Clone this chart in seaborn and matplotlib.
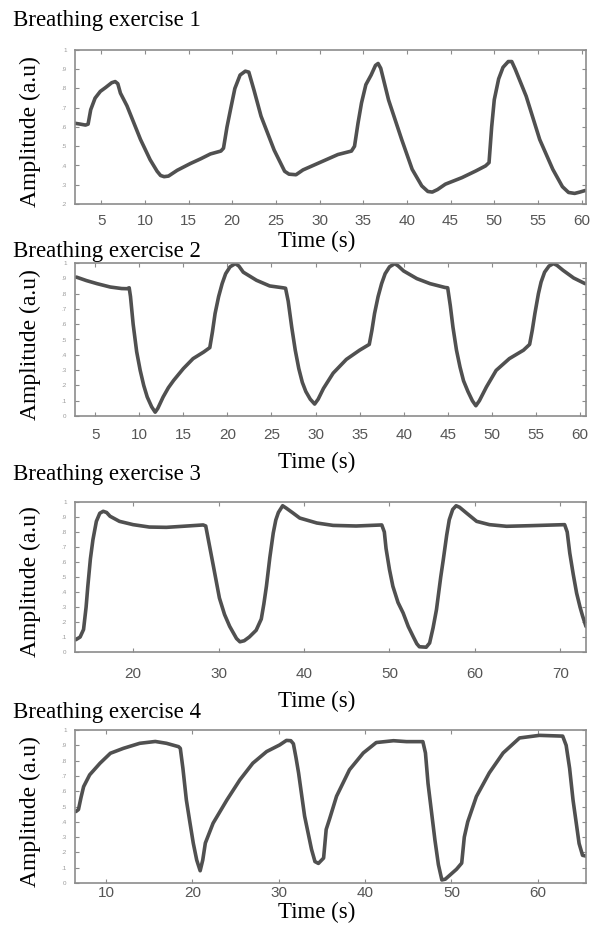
import matplotlib
matplotlib.use("Agg")
import matplotlib.pyplot as plt
import numpy as np
import pandas as pd
import seaborn as sns
from matplotlib.ticker import FuncFormatter

sns.set_style("white")
plt.rcParams["font.family"] = ["Liberation Serif", "DejaVu Serif"]

# ---- respiration traces (time in s, normalised amplitude) ----
t1 = [1.9, 2.6, 3.2, 3.5, 3.8, 4.3, 4.9, 5.5, 6.2, 6.6, 6.9, 7.2, 7.95, 9.5, 10.6, 11.4, 11.8,
      12.2, 12.7, 13.7, 15.2, 16.4, 17.5, 18.7, 19.0, 19.4, 19.8, 20.3, 20.9, 21.5, 21.9, 22.5,
      23.3, 24.8, 26.0, 26.5, 27.3, 28.1, 30.0, 32.1, 33.65, 34.0, 34.4, 34.8, 35.3, 35.9, 36.4,
      36.7, 37.0, 37.9, 39.4, 40.6, 41.7, 42.4, 42.9, 43.5, 44.4, 46.3, 47.9, 49.0, 49.4, 49.7,
      50.0, 50.5, 51.0, 51.6, 52.0, 52.4, 53.65, 55.2, 56.7, 57.8, 58.5, 59.2, 59.8, 60.4]
a1 = [0.62, 0.615, 0.61, 0.615, 0.69, 0.75, 0.785, 0.805, 0.83, 0.836, 0.825, 0.776, 0.71,
      0.535, 0.43, 0.37, 0.348, 0.342, 0.345, 0.375, 0.41, 0.435, 0.46, 0.475, 0.49, 0.6, 0.69,
      0.8, 0.87, 0.89, 0.885, 0.79, 0.656, 0.48, 0.37, 0.355, 0.352, 0.377, 0.415, 0.457, 0.475,
      0.5, 0.62, 0.725, 0.82, 0.87, 0.92, 0.93, 0.905, 0.74, 0.535, 0.38, 0.294, 0.265, 0.262,
      0.275, 0.303, 0.337, 0.372, 0.398, 0.415, 0.6, 0.742, 0.85, 0.91, 0.94, 0.94, 0.9, 0.76,
      0.535, 0.38, 0.29, 0.26, 0.255, 0.262, 0.27]

t2 = [2.85, 4.0, 5.2, 6.7, 8.0, 8.6, 8.85, 9.0, 9.3, 9.7, 10.1, 10.5, 10.9, 11.4, 11.8, 12.1,
      12.7, 13.3, 13.9, 15.0, 16.1, 17.3, 18.0, 18.3, 18.6, 19.0, 19.4, 19.8, 20.3, 20.9, 21.3,
      21.8, 23.3, 24.8, 26.3, 26.6, 26.9, 27.3, 27.7, 28.1, 28.5, 28.9, 29.4, 29.9, 30.3, 30.9,
      32.0, 33.5, 35.0, 36.1, 36.4, 36.7, 37.1, 37.5, 37.9, 38.4, 39.0, 39.4, 40.0, 41.5, 43.0,
      44.7, 45.0, 45.3, 45.6, 46.0, 46.4, 46.8, 47.3, 47.8, 48.2, 48.6, 49.4, 50.5, 52.0, 53.6,
      54.3, 54.6, 54.9, 55.3, 55.6, 56.0, 56.5, 57.0, 57.4, 58.1, 59.3, 60.6]
a2 = [0.908, 0.885, 0.865, 0.843, 0.833, 0.832, 0.838, 0.78, 0.6, 0.42, 0.298, 0.2, 0.124,
      0.06, 0.025, 0.05, 0.124, 0.185, 0.233, 0.31, 0.375, 0.418, 0.447, 0.55, 0.67, 0.78, 0.865,
      0.93, 0.975, 0.996, 0.98, 0.94, 0.887, 0.85, 0.838, 0.835, 0.75, 0.58, 0.43, 0.31, 0.22,
      0.16, 0.11, 0.078, 0.11, 0.18, 0.28, 0.37, 0.43, 0.468, 0.56, 0.67, 0.78, 0.865, 0.93,
      0.975, 0.996, 0.98, 0.948, 0.898, 0.865, 0.84, 0.838, 0.72, 0.58, 0.43, 0.32, 0.23, 0.16,
      0.1, 0.067, 0.1, 0.19, 0.298, 0.375, 0.43, 0.468, 0.56, 0.67, 0.8, 0.875, 0.94, 0.98,
      0.996, 0.985, 0.952, 0.902, 0.865]

t3 = [13.3, 13.8, 14.2, 14.5, 14.7, 15.0, 15.3, 15.7, 16.1, 16.5, 16.9, 17.3, 18.4, 20.0, 21.9,
      23.9, 25.8, 28.2, 28.5, 28.8, 29.4, 30.1, 30.7, 31.3, 32.1, 32.5, 33.0, 33.6, 34.4, 35.0,
      35.3, 35.6, 36.0, 36.4, 36.7, 37.0, 37.5, 37.9, 38.7, 39.5, 41.5, 43.4, 46.1, 49.1, 49.4,
      49.6, 50.0, 50.4, 51.0, 51.6, 52.2, 52.8, 53.2, 53.5, 54.3, 54.7, 55.1, 55.5, 56.0, 56.3,
      56.7, 57.0, 57.4, 57.8, 58.2, 59.0, 60.2, 61.7, 63.7, 66.4, 70.5, 70.8, 71.1, 71.5, 71.9,
      72.3, 72.6, 73.0]
a3 = [0.082, 0.1, 0.15, 0.3, 0.438, 0.62, 0.749, 0.871, 0.925, 0.938, 0.93, 0.905, 0.871,
      0.849, 0.833, 0.831, 0.838, 0.847, 0.84, 0.75, 0.571, 0.36, 0.25, 0.171, 0.09, 0.068,
      0.075, 0.1, 0.145, 0.22, 0.32, 0.438, 0.63, 0.793, 0.88, 0.93, 0.975, 0.96, 0.927, 0.893,
      0.86, 0.844, 0.84, 0.847, 0.8, 0.69, 0.55, 0.438, 0.33, 0.26, 0.17, 0.1, 0.055, 0.035,
      0.032, 0.06, 0.16, 0.282, 0.5, 0.616, 0.78, 0.882, 0.95, 0.975, 0.965, 0.927, 0.871, 0.849,
      0.838, 0.842, 0.849, 0.8, 0.66, 0.52, 0.393, 0.3, 0.24, 0.17]

t4 = [6.5, 6.8, 7.1, 7.4, 8.1, 9.3, 10.5, 12.0, 13.9, 15.7, 17.0, 18.4, 18.6, 18.9, 19.3, 19.7,
      20.1, 20.5, 20.9, 21.2, 21.5, 22.4, 24.0, 25.5, 27.0, 28.6, 30.1, 30.9, 31.4, 31.7, 32.0,
      32.3, 33.0, 33.8, 34.2, 34.6, 35.2, 35.5, 35.9, 36.7, 38.2, 39.8, 41.3, 43.3, 44.8, 46.7,
      47.0, 47.3, 48.1, 48.5, 48.9, 49.3, 49.8, 50.6, 51.2, 51.5, 51.9, 52.9, 54.4, 56.0, 57.9,
      60.2, 62.9, 63.3, 63.7, 64.1, 64.5, 64.8, 65.2, 65.6]
a4 = [0.467, 0.48, 0.56, 0.63, 0.707, 0.783, 0.848, 0.88, 0.913, 0.925, 0.913, 0.891, 0.88,
      0.75, 0.543, 0.4, 0.261, 0.15, 0.08, 0.15, 0.261, 0.391, 0.543, 0.674, 0.783, 0.859,
      0.902, 0.932, 0.93, 0.91, 0.82, 0.72, 0.437, 0.22, 0.14, 0.128, 0.163, 0.35, 0.42, 0.567,
      0.74, 0.85, 0.918, 0.93, 0.924, 0.924, 0.85, 0.65, 0.28, 0.12, 0.02, 0.025, 0.05, 0.09,
      0.13, 0.3, 0.4, 0.565, 0.72, 0.85, 0.948, 0.965, 0.96, 0.9, 0.75, 0.541, 0.38, 0.258,
      0.181, 0.176]

titles = ["Breathing exercise 1", "Breathing exercise 2",
          "Breathing exercise 3", "Breathing exercise 4"]
xticks = [list(range(5, 61, 5)), list(range(5, 61, 5)),
          list(range(20, 71, 10)), list(range(10, 61, 10))]
xlims = [(2.0, 60.5), (2.7, 60.7), (13.2, 73.0), (6.4, 65.6)]
ylims = [(0.2, 1.0), (0.0, 1.0), (0.0, 1.0), (0.0, 1.0)]
xlabel = "Time (s)"
ylabel = "Amplitude (a.u)"

series = [(t1, a1), (t2, a2), (t3, a3), (t4, a4)]

# ---- layout in pixels (figure is 592 x 930) ----
W, H = 592, 930
frames = [(75, 50, 586, 204), (75, 263, 586, 416), (75, 502, 586, 652), (75, 730, 586, 883)]
title_base = [26, 257, 480, 718]
xlabel_y = [241, 462, 701, 912]
xtick_pad = [7.4, 8.9, 11.0, 2.4]

fig = plt.figure(figsize=(W / 100, H / 100), dpi=100)

def ytick_fmt(v, _):
    v = round(v, 2)
    if v >= 1:
        return "1"
    if v <= 0:
        return "0"
    return "." + str(int(round(v * 10)))

line_col = "#505050"
frame_col = "#8c8c8c"

for i, ((t, a), (l, tp, r, b)) in enumerate(zip(series, frames)):
    ax = fig.add_axes([l / W, 1 - b / H, (r - l) / W, (b - tp) / H])
    df = pd.DataFrame({"time": t, "amp": a})
    sns.lineplot(data=df, x="time", y="amp", ax=ax, color=line_col, lw=2.6,
                 estimator=None, sort=False)
    ax.lines[-1].set_solid_joinstyle("round")
    ax.set_xlim(*xlims[i])
    ax.set_ylim(*ylims[i])
    ax.set_xticks(xticks[i])
    ax.set_yticks(np.round(np.arange(ylims[i][0], 1.0001, 0.1), 2))
    ax.yaxis.set_major_formatter(FuncFormatter(ytick_fmt))
    ax.set_xlabel("")
    ax.set_ylabel("")
    for s in ax.spines.values():
        s.set_color(frame_col)
        s.set_linewidth(1.2)
    ax.tick_params(axis="both", direction="in", length=3, width=0.8, color=frame_col,
                   top=True, right=True, bottom=True, left=True)
    ax.tick_params(axis="x", labelsize=11, labelcolor="#555555", pad=xtick_pad[i])
    ax.tick_params(axis="y", labelsize=4.5, labelcolor="#9a9a9a", pad=6)
    for lab in ax.get_xticklabels():
        lab.set_fontfamily("Liberation Sans")
    for lab in ax.get_yticklabels():
        lab.set_fontfamily("Liberation Sans")

    fig.text(13 / W, 1 - title_base[i] / H, titles[i], ha="left", va="baseline",
             fontsize=16.5, color="black")
    fig.text(317 / W, 1 - xlabel_y[i] / H, xlabel, ha="center", va="center",
             fontsize=16.5, color="black")
    fig.text(30 / W, 1 - ((tp + b) / 2 + 5) / H, ylabel, ha="center", va="center",
             rotation=90, fontsize=17, color="black")

fig.savefig("out.png", dpi=100, facecolor="white")
